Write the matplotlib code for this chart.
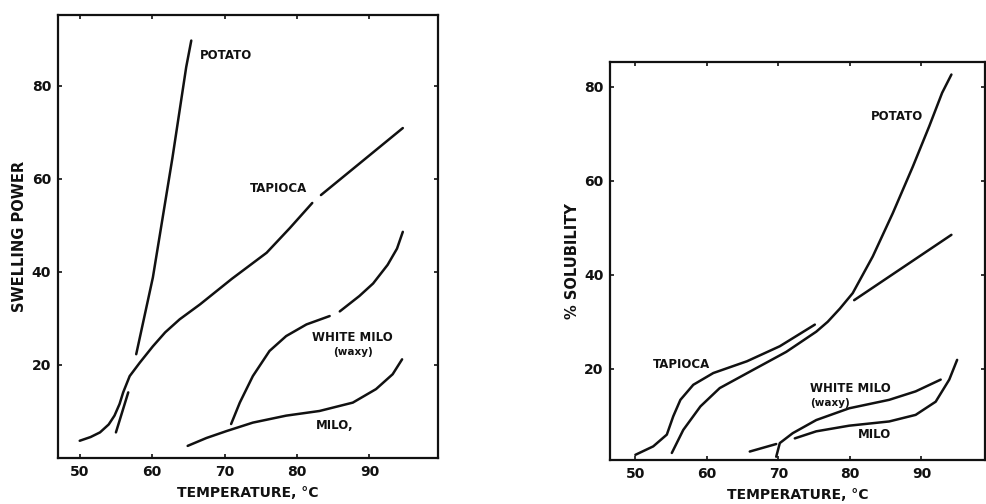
import numpy as np
import matplotlib
matplotlib.use("Agg")
import matplotlib.pyplot as plt

plt.rcParams.update({"font.family": "DejaVu Sans", "font.weight": "bold"})

# ── Swelling power (left) ────────────────────────────────────────────
sw_potato_t = [55.0, 56.7, np.nan, 57.8, 60.1, 62.8, 64.7, 65.4]
sw_potato_v = [5.5, 14.1, np.nan, 22.3, 38.8, 64.5, 84.0, 89.7]

sw_tapioca_t = [50.0, 51.5, 52.8, 54.0, 54.8, 55.5, 56.0, 56.9, 58.3, 60.1,
                61.8, 63.8, 66.6, 71.0, 75.8, 79.0, 82.1,
                np.nan, 83.3, 89.5, 94.6]
sw_tapioca_v = [3.7, 4.5, 5.5, 7.2, 9.1, 11.6, 14.1, 17.6, 20.5, 24.0,
                27.0, 29.8, 33.0, 38.5, 44.1, 49.4, 54.8,
                np.nan, 56.5, 64.4, 70.9]

sw_waxy_t = [70.9, 72.1, 73.9, 76.2, 78.5, 81.3, 84.5,
             np.nan, 85.9, 88.6, 90.5, 92.5, 93.8, 94.6]
sw_waxy_v = [7.3, 11.9, 17.6, 23.0, 26.2, 28.7, 30.5,
             np.nan, 31.5, 34.8, 37.5, 41.5, 45.0, 48.6]

sw_milo_t = [64.9, 67.5, 70.3, 73.9, 78.5, 83.1, 87.7, 90.9, 93.2, 94.5]
sw_milo_v = [2.6, 4.3, 5.8, 7.6, 9.1, 10.1, 11.9, 14.8, 18.0, 21.2]

# ── % solubility (right) ─────────────────────────────────────────────
so_tapioca_t = [50.0, 52.5, 54.4, 55.3, 56.3, 58.1, 60.9, 65.6, 70.2, 75.1,
                np.nan, 80.6, 94.2]
so_tapioca_v = [1.7, 3.5, 6.0, 9.9, 13.4, 16.6, 19.1, 21.6, 24.8, 29.4,
                np.nan, 34.6, 48.5]

so_potato_t = [55.1, 56.7, 59.1, 61.8, 66.5, 71.1, 75.3, 76.9, 78.6, 80.4,
               83.2, 86.0, 88.8, 91.1, 92.9, 94.2]
so_potato_v = [2.1, 7.0, 12.0, 15.9, 19.8, 23.6, 27.9, 30.0, 32.8, 36.1,
               43.9, 53.1, 63.0, 71.6, 78.7, 82.6]

so_waxy_t = [66.0, 69.7, np.nan, 69.7, 70.2, 72.0, 75.3, 79.9, 85.5, 89.2, 92.7]
so_waxy_v = [2.4, 4.0, np.nan, 1.3, 4.2, 6.3, 9.1, 11.6, 13.4, 15.2, 17.7]

so_milo_t = [72.3, 75.3, 79.9, 85.5, 89.2, 92.0, 93.9, 95.0]
so_milo_v = [5.2, 6.7, 7.9, 8.8, 10.2, 13.0, 17.7, 21.9]

x_ticks = [50, 60, 70, 80, 90]
y_ticks = [20, 40, 60, 80]

fig = plt.figure(figsize=(9.86, 5.04), dpi=100)
ax1 = fig.add_axes([0.0588, 0.0913, 0.385, 0.879])
ax2 = fig.add_axes([0.619, 0.0873, 0.380, 0.790])

LW = 1.8
INK = "#111111"

for t, v in [(sw_potato_t, sw_potato_v), (sw_tapioca_t, sw_tapioca_v),
             (sw_waxy_t, sw_waxy_v), (sw_milo_t, sw_milo_v)]:
    ax1.plot(t, v, color=INK, lw=LW, solid_capstyle="round", solid_joinstyle="round")
for t, v in [(so_tapioca_t, so_tapioca_v), (so_potato_t, so_potato_v),
             (so_waxy_t, so_waxy_v), (so_milo_t, so_milo_v)]:
    ax2.plot(t, v, color=INK, lw=LW, solid_capstyle="round", solid_joinstyle="round")

ax1.set_xlim(47.0, 99.4)
ax1.set_ylim(0, 95.2)
ax2.set_xlim(46.5, 98.9)
ax2.set_ylim(0.6, 85.3)

lab = dict(fontsize=8.5, fontweight="bold", color=INK)
sub = dict(fontsize=7.5, fontweight="bold", color=INK)
ax1.text(66.6, 86.5, "POTATO", ha="left", va="center", **lab)
ax1.text(77.4, 58.0, "TAPIOCA", ha="center", va="center", **lab)
ax1.text(87.7, 25.9, "WHITE MILO", ha="center", va="center", **lab)
ax1.text(87.7, 22.7, "(waxy)", ha="center", va="center", **sub)
ax1.text(85.2, 6.9, "MILO,", ha="center", va="center", **lab)

ax2.text(86.6, 73.7, "POTATO", ha="center", va="center", **lab)
ax2.text(56.4, 20.9, "TAPIOCA", ha="center", va="center", **lab)
ax2.text(74.4, 15.9, "WHITE MILO", ha="left", va="center", **lab)
ax2.text(74.4, 12.8, "(waxy)", ha="left", va="center", **sub)
ax2.text(83.4, 6.0, "MILO", ha="center", va="center", **lab)

for ax, ylab in [(ax1, "SWELLING POWER"), (ax2, "% SOLUBILITY")]:
    ax.set_xticks(x_ticks)
    ax.set_yticks(y_ticks)
    ax.tick_params(direction="in", length=3, width=1.2, top=True, right=True,
                   labelsize=10, pad=5, colors=INK)
    for lbl in ax.get_xticklabels() + ax.get_yticklabels():
        lbl.set_fontweight("bold")
    for sp in ax.spines.values():
        sp.set_linewidth(1.6)
        sp.set_color(INK)
    ax.set_xlabel("TEMPERATURE, °C", fontsize=10, fontweight="bold",
                  labelpad=5, color=INK)
    ax.set_ylabel(ylab, fontsize=10.5, fontweight="bold", labelpad=3, color=INK)

fig.savefig("out.png", dpi=100)
